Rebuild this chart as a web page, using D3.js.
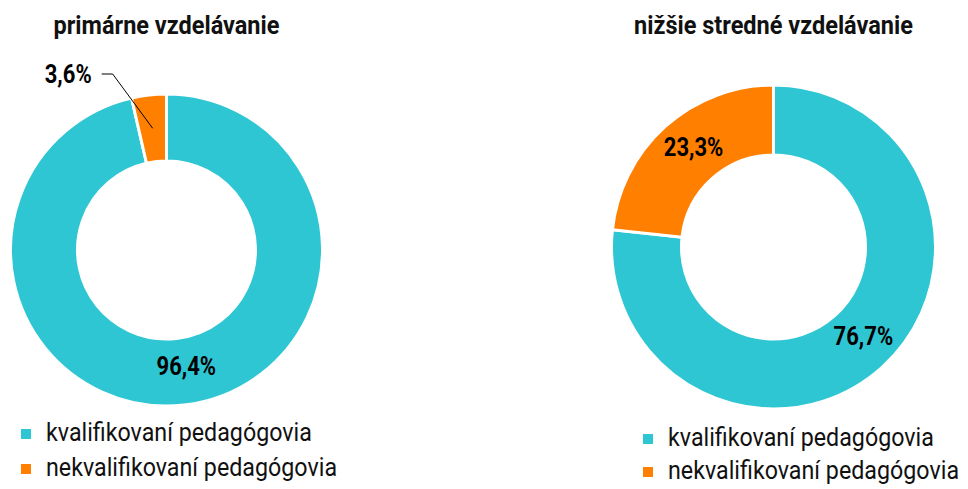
<!DOCTYPE html>
<html>
<head>
<meta charset="utf-8">
<script src="https://cdn.jsdelivr.net/npm/d3@7"></script>
<style>
  body { margin: 0; background: #fff; }
  svg { display: block; font-family: Roboto, "Noto Sans", sans-serif; }
</style>
</head>
<body>
<div id="chart"></div>
<script>
// data
var categories = ["kvalifikovaní pedagógovia", "nekvalifikovaní pedagógovia"];
var titles = ["primárne vzdelávanie", "nižšie stredné vzdelávanie"];
var primaryValues = [96.4, 3.6];
var lowerSecondaryValues = [76.7, 23.3];
var colors = ["#2ec6d3", "#ff7f00"];

var width = 968, height = 489;

var svg = d3.select("#chart").append("svg")
    .attr("width", width)
    .attr("height", height);

var color = d3.scaleOrdinal().domain(categories).range(colors);

var fmt = function(v) { return d3.format(".1f")(v).replace(".", ",") + "%"; };

var pie = d3.pie().sort(null).value(function(d) { return d.value; });

// squeeze roboto a bit so it looks like the condensed face of the original
function condense(sel, ratio) {
    sel.each(function() {
        var w = this.getComputedTextLength();
        d3.select(this)
            .attr("textLength", w * ratio)
            .attr("lengthAdjust", "spacingAndGlyphs");
    });
}

// one donut + title + legend
function makeDonut(title, values, lay) {
    var data = categories.map(function(c, i) { return { category: c, value: values[i] }; });

    var g = svg.append("g").attr("transform", "translate(" + lay.cx + "," + lay.cy + ")");

    var arc = d3.arc().outerRadius(lay.outer).innerRadius(lay.inner);

    svg.append("text")
        .attr("x", lay.cx)
        .attr("y", lay.titleY)
        .attr("text-anchor", "middle")
        .style("font-weight", "bold")
        .style("font-size", "25px")
        .attr("fill", "#111")
        .text(title)
        .call(condense, 0.94);

    var arcs = pie(data);

    g.selectAll("path")
        .data(arcs)
        .enter().append("path")
        .attr("d", arc)
        .attr("fill", function(d) { return color(d.data.category); })
        .attr("stroke", "#fff")
        .attr("stroke-width", 3);

    arcs.forEach(function(d) {
        var c = arc.centroid(d);
        if (d.data.value < 5) {
            // small slice: label outside with a leader line
            var elbow = [c[0] - 40, -lay.outer - 20];
            var end = [elbow[0] - 11, elbow[1]];
            g.append("polyline")
                .attr("points", [c, elbow, end].map(function(p) { return p.join(","); }).join(" "))
                .attr("fill", "none")
                .attr("stroke", "#000")
                .attr("stroke-width", 1);
            g.append("text")
                .attr("x", end[0] - 10)
                .attr("y", end[1])
                .attr("dy", "0.37em")
                .attr("text-anchor", "end")
                .style("font-weight", "bold")
                .style("font-size", "25px")
                .text(fmt(d.data.value))
                .call(condense, 0.88);
        } else {
            g.append("text")
                .attr("x", c[0] + lay.labelDx)
                .attr("y", c[1] + lay.labelDy)
                .attr("dy", "0.37em")
                .attr("text-anchor", "middle")
                .style("font-weight", "bold")
                .style("font-size", "25px")
                .text(fmt(d.data.value))
                .call(condense, 0.88);
        }
    });

    var leg = svg.append("g")
        .attr("transform", "translate(" + lay.legX + "," + lay.legY + ")");

    var item = leg.selectAll("g")
        .data(categories)
        .enter().append("g")
        .attr("transform", function(d, i) { return "translate(0," + i * lay.legStep + ")"; });

    item.append("rect")
        .attr("x", 0)
        .attr("y", -12)
        .attr("width", 10)
        .attr("height", 10)
        .attr("fill", function(d) { return color(d); });

    item.append("text")
        .attr("x", 25)
        .attr("y", 0)
        .style("font-size", "25px")
        .attr("fill", "#111")
        .text(function(d) { return d; })
        .call(condense, 0.93);
}

makeDonut(titles[0], primaryValues, {
    cx: 166.5, cy: 250, outer: 156, inner: 89, titleY: 34,
    labelDx: 6, labelDy: -6,
    legX: 21, legY: 441, legStep: 35
});

makeDonut(titles[1], lowerSecondaryValues, {
    cx: 773.5, cy: 247, outer: 162, inner: 92, titleY: 34,
    labelDx: 5, labelDy: -6,
    legX: 643, legY: 446, legStep: 33
});
</script>
</body>
</html>
